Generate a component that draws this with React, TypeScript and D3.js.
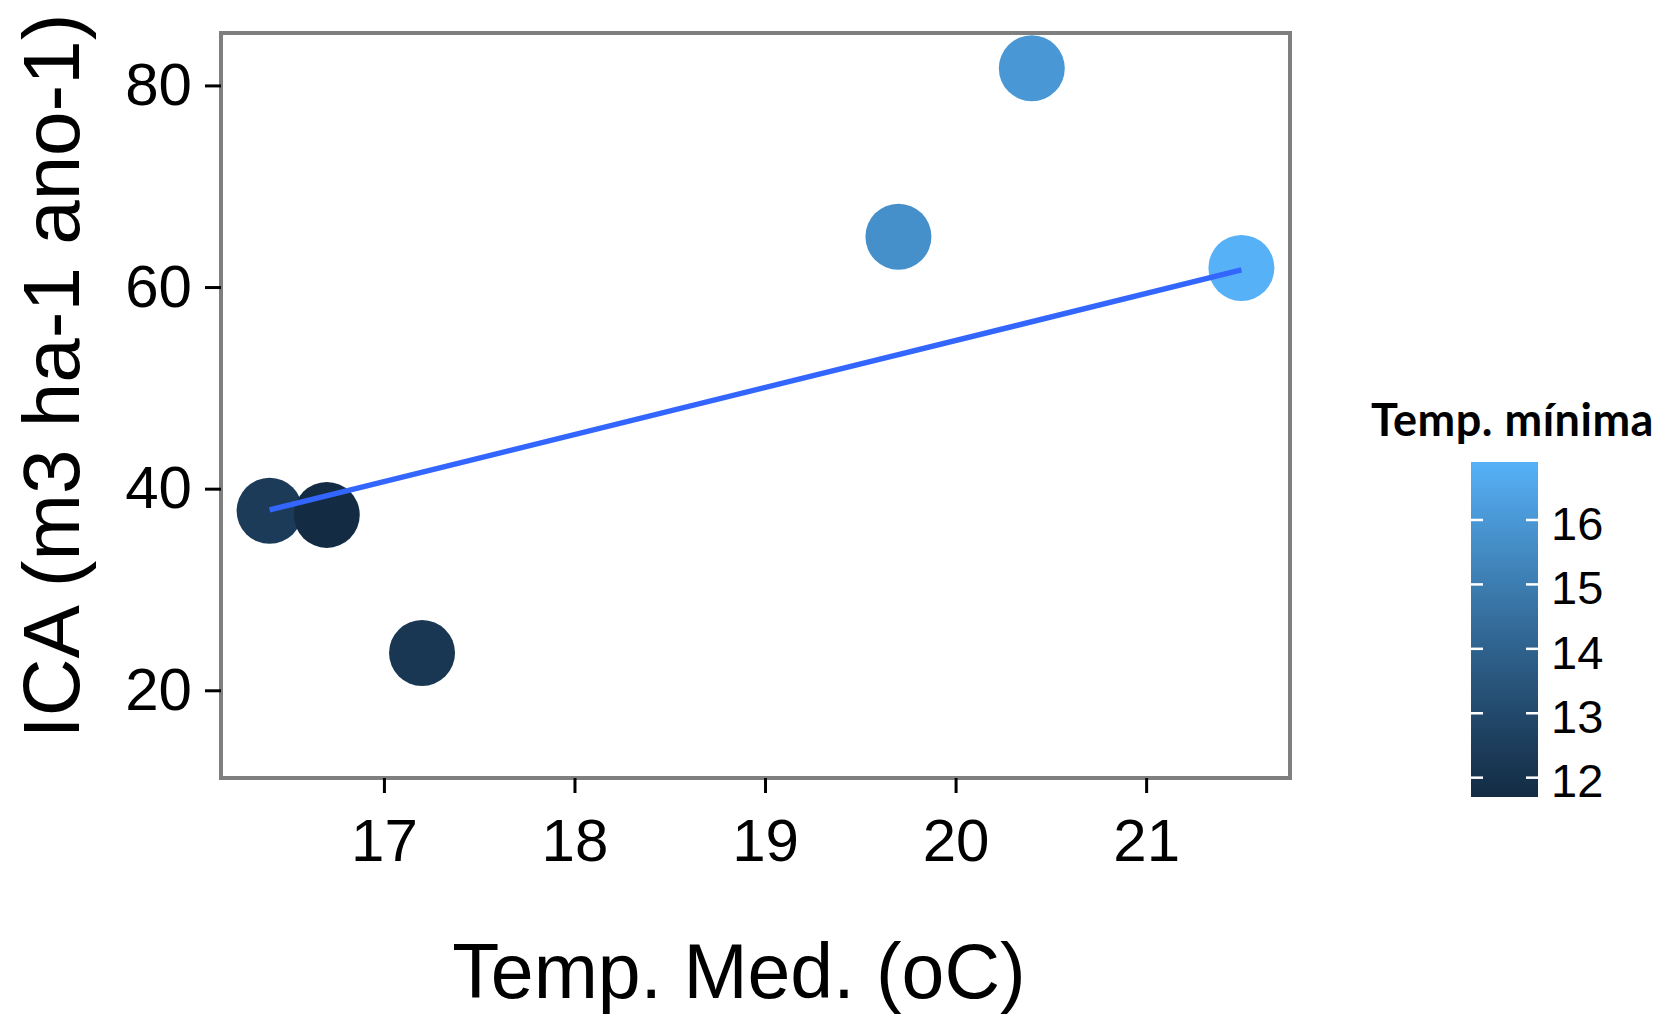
import { useEffect, useRef } from "react";
import * as d3 from "d3";

// temperatura média (x), ICA (y), temperatura mínima (cor)
const tempMed = [16.4, 16.7, 17.2, 19.7, 20.4, 21.5];
const ica = [37.8, 37.4, 23.7, 65.0, 81.7, 61.9];
const tempMin = [12.4, 11.7, 12.2, 15.7, 16.0, 16.9];

// reta ajustada (extremos)
const fitX = [16.4, 21.5];
const fitY = [37.9, 61.7];

const xTicks = [17, 18, 19, 20, 21];
const yTicks = [20, 40, 60, 80];
const legendTicks = [12, 13, 14, 15, 16];

const W = 1657;
const H = 1016;
const panel = { left: 221, right: 1290, top: 33, bottom: 778 };
const bar = { left: 1471, right: 1538, top: 462, bottom: 797 };

export default function App() {
  const svgRef = useRef<SVGSVGElement>(null);

  useEffect(() => {
    if (!svgRef.current) return;
    const svg = d3.select(svgRef.current);
    svg.selectAll("*").remove();

    const x = d3.scaleLinear().domain([16.145, 21.755]).range([panel.left, panel.right]);
    const y = d3.scaleLinear().domain([11.3, 85.2]).range([panel.bottom, panel.top]);
    const cMin = d3.min(tempMin) as number;
    const cMax = d3.max(tempMin) as number;
    const color = d3
      .scaleLinear<string>()
      .domain([cMin, cMax])
      .range(["#132B43", "#56B1F7"])
      .interpolate(d3.interpolateLab);

    const font = "'Liberation Sans', Arial, sans-serif";

    // painel
    svg
      .append("rect")
      .attr("x", panel.left)
      .attr("y", panel.top)
      .attr("width", panel.right - panel.left)
      .attr("height", panel.bottom - panel.top)
      .attr("fill", "white")
      .attr("stroke", "#7F7F7F")
      .attr("stroke-width", 4);

    // pontos
    const pts = tempMed.map((t, i) => ({ x: t, y: ica[i], c: tempMin[i] }));
    svg
      .append("g")
      .selectAll("circle")
      .data(pts)
      .join("circle")
      .attr("cx", (d) => x(d.x))
      .attr("cy", (d) => y(d.y))
      .attr("r", 33)
      .attr("fill", (d) => color(d.c));

    // reta
    const line = d3
      .line<number>()
      .x((d) => x(d))
      .y((_, i) => y(fitY[i]));
    svg
      .append("path")
      .attr("d", line(fitX))
      .attr("fill", "none")
      .attr("stroke", "#3366FF")
      .attr("stroke-width", 5.5);

    // eixos
    const styleAxis = (g: d3.Selection<SVGGElement, unknown, null, undefined>, size: number) => {
      g.select(".domain").remove();
      g.selectAll("line").attr("stroke", "black").attr("stroke-width", 3);
      g.selectAll("text").attr("fill", "black").style("font-size", `${size}px`);
      g.attr("font-family", font);
    };

    svg
      .append("g")
      .attr("transform", `translate(0,${panel.bottom})`)
      .call(d3.axisBottom(x).tickValues(xTicks).tickSize(15).tickPadding(25).tickFormat(d3.format("d")))
      .call((g) => styleAxis(g, 60));

    svg
      .append("g")
      .attr("transform", `translate(${panel.left},0)`)
      .call(d3.axisLeft(y).tickValues(yTicks).tickSize(16).tickPadding(13).tickFormat(d3.format("d")))
      .call((g) => styleAxis(g, 60));

    // títulos dos eixos
    svg
      .append("text")
      .attr("x", 739)
      .attr("y", 998)
      .attr("text-anchor", "middle")
      .attr("font-family", font)
      .attr("font-size", 77)
      .text("Temp. Med. (oC)");

    svg
      .append("text")
      .attr("transform", "translate(79,376) rotate(-90)")
      .attr("text-anchor", "middle")
      .attr("font-family", font)
      .attr("font-size", 80)
      .text("ICA (m3 ha-1 ano-1)");

    // legenda
    const defs = svg.append("defs");
    const grad = defs
      .append("linearGradient")
      .attr("id", "tempGrad")
      .attr("x1", 0)
      .attr("y1", 1)
      .attr("x2", 0)
      .attr("y2", 0);
    d3.range(0, 1.0001, 0.05).forEach((t) => {
      grad
        .append("stop")
        .attr("offset", t)
        .attr("stop-color", color(cMin + t * (cMax - cMin)));
    });

    const ly = d3.scaleLinear().domain([cMin, cMax]).range([bar.bottom, bar.top]);

    svg
      .append("rect")
      .attr("x", bar.left)
      .attr("y", bar.top)
      .attr("width", bar.right - bar.left)
      .attr("height", bar.bottom - bar.top)
      .attr("fill", "url(#tempGrad)");

    const lt = svg.append("g").selectAll("g").data(legendTicks).join("g");
    lt.append("line")
      .attr("x1", bar.left)
      .attr("x2", bar.left + 12)
      .attr("y1", (d) => ly(d))
      .attr("y2", (d) => ly(d))
      .attr("stroke", "white")
      .attr("stroke-width", 2.5);
    lt.append("line")
      .attr("x1", bar.right - 12)
      .attr("x2", bar.right)
      .attr("y1", (d) => ly(d))
      .attr("y2", (d) => ly(d))
      .attr("stroke", "white")
      .attr("stroke-width", 2.5);
    lt.append("text")
      .attr("x", bar.right + 13)
      .attr("y", (d) => ly(d))
      .attr("dy", "0.42em")
      .attr("font-family", font)
      .attr("font-size", 47)
      .text((d) => d);

    svg
      .append("text")
      .attr("x", 1371)
      .attr("y", 436)
      .attr("font-family", "Lato, 'Open Sans', sans-serif")
      .attr("font-weight", "bold")
      .attr("font-size", 45)
      .attr("letter-spacing", 0.5)
      .text("Temp. mínima");
  }, []);

  return (
    <svg
      ref={svgRef}
      width={W}
      height={H}
      style={{ position: "absolute", left: 0, top: 0, background: "white" }}
    />
  );
}
